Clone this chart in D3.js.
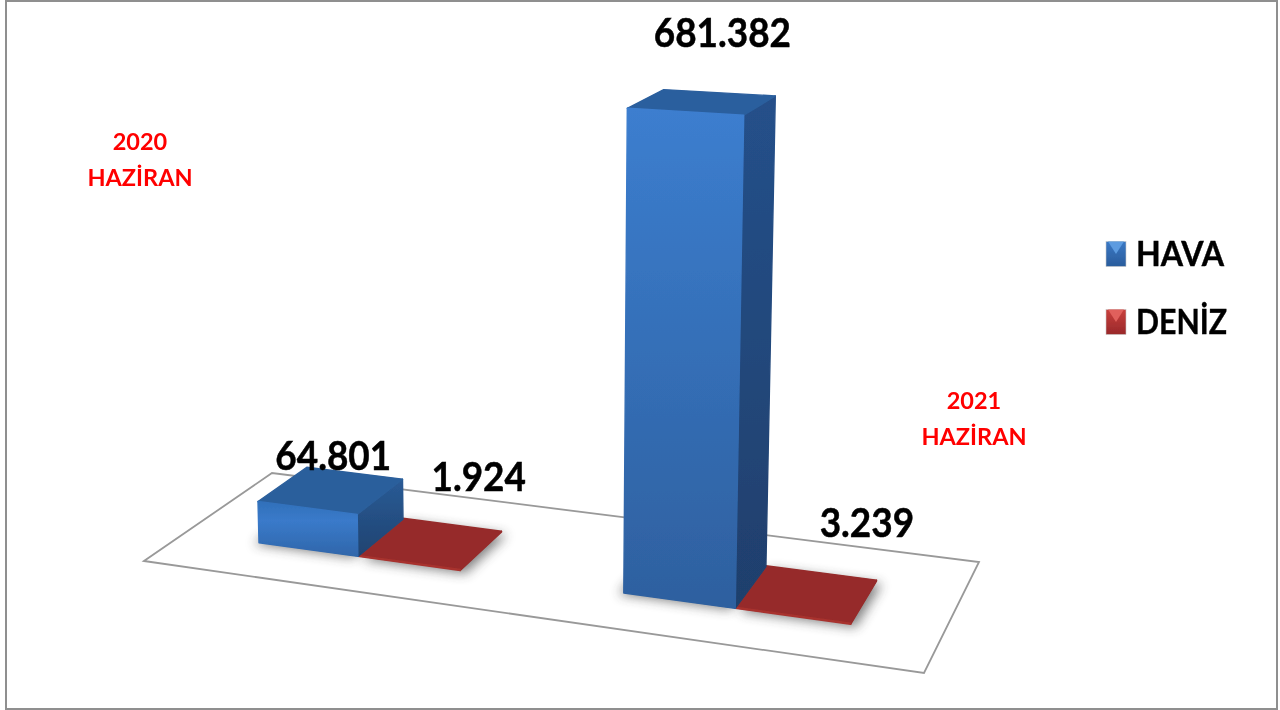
<!DOCTYPE html>
<html>
<head>
<meta charset="utf-8">
<script src="https://cdn.jsdelivr.net/npm/d3@7"></script>
<style>
  body { margin: 0; background: #fff; }
  svg { display: block; }
  text { font-family: Lato, "Open Sans", sans-serif; }
</style>
</head>
<body>
<svg id="chart" width="1280" height="710"></svg>
<script>
// Chart data
const periods = ["2020 HAZİRAN", "2021 HAZİRAN"];
const seriesNames = ["HAVA", "DENİZ"];
const havaValues = [64801, 681382];
const denizValues = [1924, 3239];
const periodLines = [["2020", "HAZİRAN"], ["2021", "HAZİRAN"]];

const svg = d3.select("#chart");
const fmt = d3.format(",d");
const label = v => fmt(v).replace(/,/g, ".");

// Floor corners on screen, in order u0v0, u1v0, u1v1, u0v1
const floor = [[144, 561], [924, 673], [979, 562], [272, 473]];

// Square to quad homography, so the floor can be addressed in 0..1
function makeHomography(q) {
    const [[x0, y0], [x1, y1], [x2, y2], [x3, y3]] = q;
    const dx1 = x1 - x2, dx2 = x3 - x2, sx = x0 - x1 + x2 - x3;
    const dy1 = y1 - y2, dy2 = y3 - y2, sy = y0 - y1 + y2 - y3;
    const den = dx1 * dy2 - dx2 * dy1;
    const g = (sx * dy2 - dx2 * sy) / den;
    const h = (dx1 * sy - sx * dy1) / den;
    const a = x1 - x0 + g * x1, b = x3 - x0 + h * x3;
    const d = y1 - y0 + g * y1, e = y3 - y0 + h * y3;
    return (u, v) => {
        const w = 1 + g * u + h * v;
        return { x: (a * u + b * v + x0) / w, y: (d * u + e * v + y0) / w, w };
    };
}
const project = makeHomography(floor);

// Scales: period along the floor, series inside a period, value upwards
const uGroup = d3.scaleBand().domain(periods).range([0, 1]);
const uSeries = d3.scaleBand().domain(seriesNames).range([0.217, 0.783]);
const vRange = [0.3, 0.7];
// The flat bars keep a thin lip only, as in the picture
const yValue = d3.scaleLinear().domain([5000, 681382]).range([1, 466.5]).clamp(true);

// A point on the bar: floor position + height, with the slight perspective lean
function barPoint(u, v, h) {
    const p = project(u, v);
    const px = h / p.w;
    return [p.x + px * (p.x - 544) * 0.00009, p.y - px];
}
const poly = pts => pts.map(p => p.map(n => n.toFixed(1)).join(",")).join(" ");

const defs = svg.append("defs");
function gradient(id, stops, x2 = 0, y2 = 1) {
    const g = defs.append("linearGradient").attr("id", id)
        .attr("x1", 0).attr("y1", 0).attr("x2", x2).attr("y2", y2);
    stops.forEach(s => g.append("stop").attr("offset", s[0]).attr("stop-color", s[1]));
}
gradient("frontTall", [[0, "#3c7ecf"], [0.45, "#3570b9"], [1, "#2e609f"]]);
gradient("frontLow", [[0, "#3070ba"], [0.35, "#3a7aca"], [1, "#2f66aa"]]);
gradient("sideTall", [[0, "#25508a"], [1, "#1f3f6c"]]);
gradient("sideLow", [[0, "#2a5b96"], [1, "#1f4370"]]);
gradient("keyBlue", [[0, "#3a78c4"], [1, "#2a5c9c"]]);
gradient("keyRed", [[0, "#c8403c"], [1, "#99282a"]]);

defs.append("filter").attr("id", "shadow")
    .attr("x", "-30%").attr("y", "-60%").attr("width", "160%").attr("height", "220%")
    .append("feGaussianBlur").attr("stdDeviation", 6);
defs.append("filter").attr("id", "soft")
    .append("feGaussianBlur").attr("stdDeviation", 0.55);

// Outer frame
svg.append("rect")
    .attr("x", 6).attr("y", 1)
    .attr("width", 1271).attr("height", 708)
    .attr("fill", "#fff")
    .attr("stroke", "#8f8f8f")
    .attr("stroke-width", 2);

// Floor of the 3D plot
svg.append("polygon")
    .attr("points", poly(floor))
    .attr("fill", "#fff")
    .attr("stroke", "#999")
    .attr("stroke-width", 1.8)
    .attr("filter", "url(#soft)");

const bars = [];
periods.forEach((period, i) => {
    bars.push({ period, name: "DENİZ", value: denizValues[i], i });
    bars.push({ period, name: "HAVA", value: havaValues[i], i });
});

const plot = svg.append("g");

function footprint(d) {
    const u0 = uGroup(d.period) + uGroup.bandwidth() * uSeries(d.name);
    const u1 = u0 + uGroup.bandwidth() * uSeries.bandwidth();
    return { u0, u1, h: yValue(d.value) };
}

// Soft shadows first, they lie on the floor
plot.append("g")
    .selectAll("polygon")
    .data(bars)
    .join("polygon")
    .attr("points", d => {
        const { u0, u1 } = footprint(d);
        return poly([barPoint(u0, vRange[0], 0), barPoint(u1, vRange[0], 0),
            barPoint(u1, vRange[1], 0), barPoint(u0, vRange[1], 0)]
            .map(p => [p[0] + (d.name === "HAVA" ? -5 : 5), p[1] + (d.name === "HAVA" ? 1 : 3)]));
    })
    .attr("fill", "#3a3a3a")
    .attr("opacity", 0.65)
    .attr("filter", "url(#shadow)");

const barGroups = plot.append("g").attr("filter", "url(#soft)")
    .selectAll("g")
    .data(bars)
    .join("g");

barGroups.each(function (d) {
    const g = d3.select(this);
    const { u0, u1, h } = footprint(d);
    const [v0, v1] = vRange;
    const hava = d.name === "HAVA";
    const tall = d.value > 100000;
    const faces = [
        { pts: [barPoint(u1, v0, 0), barPoint(u1, v1, 0), barPoint(u1, v1, h), barPoint(u1, v0, h)],
            fill: hava ? (tall ? "url(#sideTall)" : "url(#sideLow)") : "#962c2a" },
        { pts: [barPoint(u0, v0, h), barPoint(u1, v0, h), barPoint(u1, v1, h), barPoint(u0, v1, h)],
            fill: hava ? (tall ? "#2c5f9e" : "#2c5f9c") : "#962c2a" },
        { pts: [barPoint(u0, v0, 0), barPoint(u1, v0, 0), barPoint(u1, v0, h), barPoint(u0, v0, h)],
            fill: hava ? (tall ? "url(#frontTall)" : "url(#frontLow)") : "#a8322f" }
    ];
    g.selectAll("polygon")
        .data(faces)
        .join("polygon")
        .attr("points", f => poly(f.pts))
        .attr("fill", f => f.fill)
        .attr("stroke", f => f.fill)
        .attr("stroke-width", 1.4)
        .attr("stroke-linejoin", "round");
});

// Value labels, each nudged off its bar's top centre like the original
const labelNudge = {
    "HAVA0": [2, -20], "DENİZ0": [48, -52],
    "HAVA1": [20, -55], "DENİZ1": [60, -57]
};
svg.append("g").attr("filter", "url(#soft)")
    .selectAll("text")
    .data(bars)
    .join("text")
    .attr("x", d => {
        const { u0, u1, h } = footprint(d);
        return barPoint((u0 + u1) / 2, 0.5, h)[0] + labelNudge[d.name + d.i][0];
    })
    .attr("y", d => {
        const { u0, u1, h } = footprint(d);
        return barPoint((u0 + u1) / 2, 0.5, h)[1] + labelNudge[d.name + d.i][1];
    })
    .attr("text-anchor", "middle")
    .style("font-size", "41px")
    .style("font-weight", 700)
    .attr("fill", "#000")
    .attr("stroke", "#000")
    .attr("stroke-width", 0.5)
    .text(d => label(d.value))
    .attr("lengthAdjust", "spacingAndGlyphs")
    .attr("textLength", function () { return this.getComputedTextLength() * 0.9; });

// Red period captions
const captionPos = [[140, 150], [974, 409]];
periodLines.forEach((lines, i) => {
    svg.append("text")
        .attr("x", captionPos[i][0])
        .attr("y", captionPos[i][1])
        .attr("text-anchor", "middle")
        .style("font-size", "23.5px")
        .style("font-weight", 700)
        .attr("fill", "#ff0000")
        .attr("filter", "url(#soft)")
        .selectAll("tspan")
        .data(lines)
        .join("tspan")
        .attr("x", captionPos[i][0])
        .attr("dy", (d, k) => k ? 36 : 0)
        .text(d => d);
});

// Legend
const legendY = d3.scalePoint().domain(seriesNames).range([254, 322]);
const legendWidths = [88, 91];
const keyW = 20, keyH = 25;
const legend = svg.append("g").attr("filter", "url(#soft)")
    .selectAll("g")
    .data(seriesNames)
    .join("g")
    .attr("transform", d => `translate(1106,${legendY(d)})`);
legend.append("rect")
    .attr("x", 0).attr("y", -keyH / 2)
    .attr("width", keyW).attr("height", keyH)
    .attr("fill", (d, i) => i ? "url(#keyRed)" : "url(#keyBlue)")
    .attr("stroke", "#c9c9c9")
    .attr("stroke-width", 0.6);
// Bevel on top of the key
legend.append("polygon")
    .attr("points", poly([[2, -keyH / 2], [keyW - 2, -keyH / 2], [keyW / 2, 0]]))
    .attr("fill", (d, i) => i ? "#e0605c" : "#5b9be0");
legend.append("text")
    .attr("x", 30)
    .attr("y", 12)
    .style("font-size", "35px")
    .style("font-weight", 700)
    .attr("fill", "#000")
    .attr("stroke", "#000")
    .attr("stroke-width", 0.4)
    .attr("lengthAdjust", "spacingAndGlyphs")
    .attr("textLength", (d, i) => legendWidths[i])
    .text(d => d);
</script>
</body>
</html>
